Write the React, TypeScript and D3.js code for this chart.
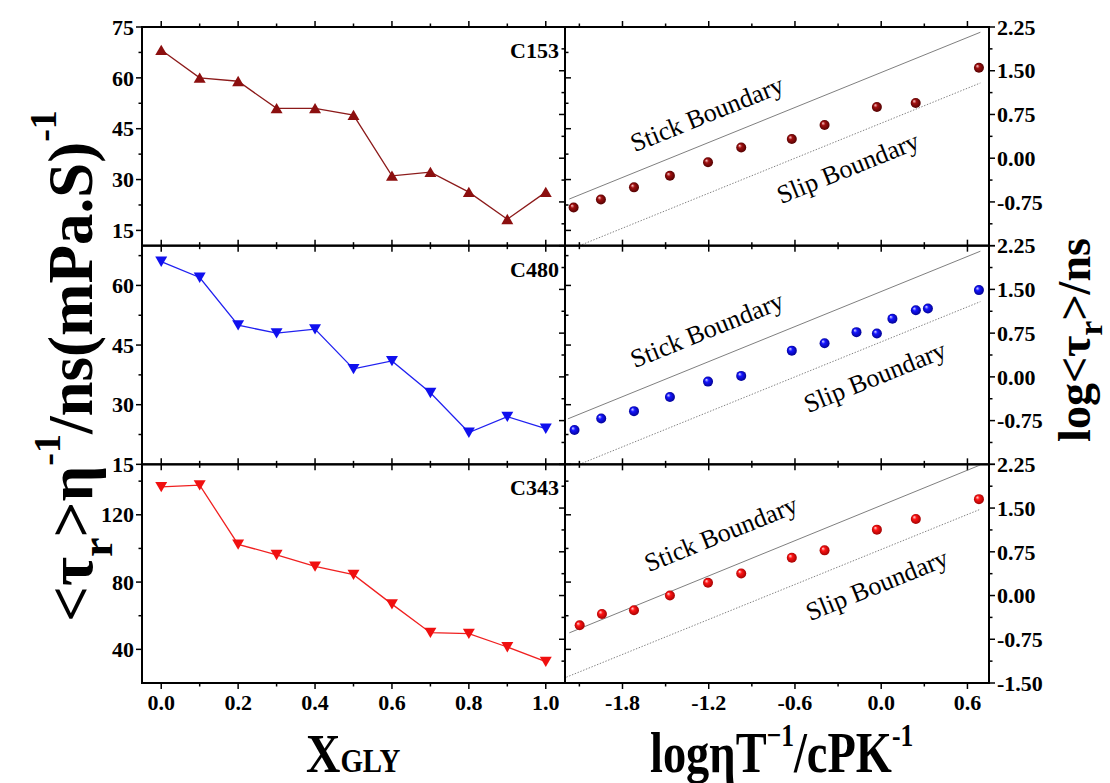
import React from 'react';
import * as d3 from 'd3';

// ---------- data ----------
const xGly = [0, 0.1, 0.2, 0.3, 0.4, 0.5, 0.6, 0.7, 0.8, 0.9, 1.0];
const c153Tau = [68.2, 60, 59, 51, 51, 49, 31.1, 32.2, 26.3, 18.3, 26.3];
const c480Tau = [66, 62, 50, 48, 49, 39, 41, 33, 23, 27, 24];
const c343Tau = [136.6, 137.6, 102.4, 96.2, 89.3, 84.4, 66.9, 49.9, 49.3, 41.4, 32.7];

const c153LogX = [-2.14, -1.95, -1.72, -1.47, -1.205, -0.974, -0.622, -0.394, -0.03, 0.24, 0.68];
const c153LogTau = [-0.845, -0.707, -0.5, -0.3, -0.07, 0.184, 0.328, 0.569, 0.879, 0.948, 1.55];
const c480LogX = [-2.134, -1.948, -1.72, -1.47, -1.205, -0.974, -0.622, -0.394, -0.172, -0.03, 0.078, 0.241, 0.325, 0.68];
const c480LogTau = [-0.912, -0.715, -0.588, -0.346, -0.081, 0.017, 0.45, 0.577, 0.767, 0.744, 0.998, 1.142, 1.171, 1.488];
const c343LogX = [-2.098, -1.943, -1.72, -1.47, -1.205, -0.974, -0.622, -0.394, -0.03, 0.241, 0.68];
const c343LogTau = [-0.511, -0.316, -0.252, 0, 0.218, 0.379, 0.648, 0.775, 1.13, 1.314, 1.653];

// boundary lines (endpoints in data units)
const c153Stick = [[-2.17, -0.70], [0.69, 2.16]];
const c153Slip = [[-2.1, -1.5], [0.69, 1.29]];
const c480Stick = [[-2.18, -0.72], [0.69, 2.155]];
const c480Slip = [[-2.1, -1.5], [0.69, 1.29]];
const c343Stick = [[-2.17, -0.64], [0.69, 2.24]];
const c343Slip = [[-2.19, -1.40], [0.69, 1.48]];

// ticks
const leftXMajor = [0, 0.2, 0.4, 0.6, 0.8, 1.0];
const leftXMinor = [0.1, 0.3, 0.5, 0.7, 0.9];
const rightXMajor = [-1.8, -1.2, -0.6, 0, 0.6];
const rightXMinor = [-2.1, -1.5, -0.9, -0.3, 0.3];
const rightYMajor = [-1.5, -0.75, 0, 0.75, 1.5, 2.25];
const rightYMinor = [-1.125, -0.375, 0.375, 1.125, 1.875];
const c153YMajor = [15, 30, 45, 60, 75];
const c153YMinor = [22.5, 37.5, 52.5, 67.5];
const c480YMajor = [15, 30, 45, 60];
const c480YMinor = [22.5, 37.5, 52.5, 67.5];
const c343YMajor = [40, 80, 120];
const c343YMinor = [20, 60, 100, 140];

// ---------- layout ----------
const W = 1110, H = 783;
const L = 142, M = 565, R = 989, T = 27, B = 683;
const PH = (B - T) / 3;
const FONT = '"Liberation Serif", "Times New Roman", serif';

const panels = [
  { name: 'C153', tau: c153Tau, yDom: [10.5, 75], yMajor: c153YMajor, yMinor: c153YMinor,
    color: '#8c0f0f', line: '#8c1a1a', up: true, lx: c153LogX, ly: c153LogTau,
    stick: c153Stick, slip: c153Slip, rLabels: [-0.75, 0, 0.75, 1.5, 2.25],
    stickPos: [707, 114], slipPos: [848, 168], grad: 'gDark' },
  { name: 'C480', tau: c480Tau, yDom: [15, 70], yMajor: c480YMajor, yMinor: c480YMinor,
    color: '#1010ee', line: '#2020f0', up: false, lx: c480LogX, ly: c480LogTau,
    stick: c480Stick, slip: c480Slip, rLabels: [-0.75, 0, 0.75, 1.5, 2.25],
    stickPos: [707, 330], slipPos: [875, 377], grad: 'gBlue' },
  { name: 'C343', tau: c343Tau, yDom: [20, 150], yMajor: c343YMajor, yMinor: c343YMinor,
    color: '#f01010', line: '#f02020', up: false, lx: c343LogX, ly: c343LogTau,
    stick: c343Stick, slip: c343Slip, rLabels: [-1.5, -0.75, 0, 0.75, 1.5, 2.25],
    stickPos: [721, 534], slipPos: [877, 585], grad: 'gRed' },
];

const xL = d3.scaleLinear().domain([-0.05, 1.05]).range([L, M]);
const xR = d3.scaleLinear().domain([-2.2, 0.75]).range([M, R]);

const fmt2 = (v: number) => v.toFixed(2);
const fmtL = (v: number) => v.toFixed(1);

export default function App() {
  const angle = -22;
  const tri = d3.symbol().type(d3.symbolTriangle).size(62)();
  return (
    <svg width={W} height={H} style={{ position: 'absolute', left: 0, top: 0, background: '#fff' }}
      fontFamily={FONT}>
      <defs>
        <radialGradient id="gDark" cx="50%" cy="50%" r="55%" fx="32%" fy="30%">
          <stop offset="0%" stopColor="#ffd0d0" />
          <stop offset="35%" stopColor="#a01010" />
          <stop offset="100%" stopColor="#4a0000" />
        </radialGradient>
        <radialGradient id="gBlue" cx="50%" cy="50%" r="55%" fx="32%" fy="30%">
          <stop offset="0%" stopColor="#e0e0ff" />
          <stop offset="35%" stopColor="#1515ff" />
          <stop offset="100%" stopColor="#00008a" />
        </radialGradient>
        <radialGradient id="gRed" cx="50%" cy="50%" r="55%" fx="32%" fy="30%">
          <stop offset="0%" stopColor="#ffe0e0" />
          <stop offset="35%" stopColor="#ff1515" />
          <stop offset="100%" stopColor="#9a0000" />
        </radialGradient>
        {panels.map((p, i) => (
          <clipPath id={`clipR${i}`} key={i}>
            <rect x={M} y={T + i * PH} width={R - M} height={PH} />
          </clipPath>
        ))}
      </defs>
      <rect x={0} y={0} width={W} height={H} fill="#fff" />
      {panels.map((p, i) => {
        const top = T + i * PH;
        const bot = top + PH;
        const yL = d3.scaleLinear().domain(p.yDom).range([bot, top]);
        const yR = d3.scaleLinear().domain([-1.5, 2.25]).range([bot, top]);
        const lineGen = d3.line<number>().x((_, k) => xL(xGly[k])).y((d) => yL(d));
        const bl = d3.line<number[]>().x((d) => xR(d[0])).y((d) => yR(d[1]));
        const maj = 6, mnr = 3.5;
        return (
          <g key={p.name}>
            <g stroke="#000" strokeWidth={1.5}>
              {p.yMajor.map((v) => (
                <g key={'ly' + v}>
                  <line x1={L - maj} x2={L} y1={yL(v)} y2={yL(v)} />
                  <line x1={M} x2={M + maj} y1={yL(v)} y2={yL(v)} />
                </g>
              ))}
              {p.yMinor.filter((v) => v > p.yDom[0] && v < p.yDom[1]).map((v) => (
                <g key={'lym' + v}>
                  <line x1={L - mnr} x2={L} y1={yL(v)} y2={yL(v)} />
                  <line x1={M} x2={M + mnr} y1={yL(v)} y2={yL(v)} />
                </g>
              ))}
              {leftXMajor.map((v) => (
                <g key={'lx' + v}>
                  <line x1={xL(v)} x2={xL(v)} y1={bot} y2={bot + maj} />
                  <line x1={xL(v)} x2={xL(v)} y1={top} y2={top - maj} />
                </g>
              ))}
              {leftXMinor.map((v) => (
                <g key={'lxm' + v}>
                  <line x1={xL(v)} x2={xL(v)} y1={bot} y2={bot + mnr} />
                  <line x1={xL(v)} x2={xL(v)} y1={top} y2={top - mnr} />
                </g>
              ))}
              {rightYMajor.map((v) => (
                <g key={'ry' + v}>
                  <line x1={R} x2={R + maj} y1={yR(v)} y2={yR(v)} />
                  <line x1={M - maj} x2={M} y1={yR(v)} y2={yR(v)} />
                </g>
              ))}
              {rightYMinor.map((v) => (
                <g key={'rym' + v}>
                  <line x1={R} x2={R + mnr} y1={yR(v)} y2={yR(v)} />
                  <line x1={M - mnr} x2={M} y1={yR(v)} y2={yR(v)} />
                </g>
              ))}
              {rightXMajor.map((v) => (
                <g key={'rx' + v}>
                  <line x1={xR(v)} x2={xR(v)} y1={bot} y2={bot + maj} />
                  <line x1={xR(v)} x2={xR(v)} y1={top} y2={top - maj} />
                </g>
              ))}
              {rightXMinor.map((v) => (
                <g key={'rxm' + v}>
                  <line x1={xR(v)} x2={xR(v)} y1={bot} y2={bot + mnr} />
                  <line x1={xR(v)} x2={xR(v)} y1={top} y2={top - mnr} />
                </g>
              ))}
            </g>
            <g fontSize={22} fontWeight="bold" textAnchor="end">
              {p.yMajor.map((v) => (
                <text key={'lt' + v} x={L - 8} y={yL(v)} dy="0.35em">{v}</text>
              ))}
            </g>
            <g fontSize={22} fontWeight="bold" textAnchor="start">
              {p.rLabels.map((v) => (
                <text key={'rt' + v} x={R + 8} y={yR(v)} dy="0.35em">{fmt2(v)}</text>
              ))}
            </g>
            <path d={lineGen(p.tau) || ''} fill="none" stroke={p.line} strokeWidth={1.3} />
            {p.tau.map((v, k) => (
              <path key={k} d={tri}
                transform={`translate(${xL(xGly[k])},${yL(v) + (p.up ? 1.5 : -1.5)}) rotate(${p.up ? 0 : 180})`}
                fill={p.color} />
            ))}
            <text x={M - 6} y={top + 31} fontSize={22} fontWeight="bold" textAnchor="end">{p.name}</text>
            <g clipPath={`url(#clipR${i})`}>
              <path d={bl(p.stick) || ''} fill="none" stroke="#707070" strokeWidth={0.9} />
              <path d={bl(p.slip) || ''} fill="none" stroke="#808080" strokeWidth={1} strokeDasharray="1.4,1.6" />
            </g>
            {p.lx.map((v, k) => (
              <circle key={k} cx={xR(v)} cy={yR(p.ly[k])} r={5} fill={`url(#${p.grad})`} />
            ))}
            <text transform={`translate(${p.stickPos[0]},${p.stickPos[1]}) rotate(${angle})`}
              fontSize={26} textAnchor="middle" dominantBaseline="central">Stick Boundary</text>
            <text transform={`translate(${p.slipPos[0]},${p.slipPos[1]}) rotate(${angle})`}
              fontSize={26} textAnchor="middle" dominantBaseline="central">Slip Boundary</text>
            <rect x={L} y={top} width={M - L} height={PH} fill="none" stroke="#000" strokeWidth={2} />
            <rect x={M} y={top} width={R - M} height={PH} fill="none" stroke="#000" strokeWidth={2} />
          </g>
        );
      })}
      <g fontSize={22} fontWeight="bold" textAnchor="middle">
        {leftXMajor.map((v) => (
          <text key={'bl' + v} x={xL(v)} y={B + 27}>{fmtL(v)}</text>
        ))}
        {rightXMajor.map((v) => (
          <text key={'br' + v} x={xR(v)} y={B + 27}>{fmtL(v)}</text>
        ))}
      </g>
      {/* axis titles */}
      <text transform="translate(306,772) scale(0.85,1)" fontSize={56} fontWeight="bold">
        X<tspan fontSize={34}>GLY</tspan>
      </text>
      <text transform="translate(650,772) scale(0.8,1)" fontSize={58} fontWeight="bold">
        logηT<tspan fontSize={32} dy={-26}>−1</tspan><tspan dy={26}>/cPK</tspan><tspan fontSize={32} dy={-26}>-1</tspan>
      </text>
      <text transform="translate(92,366) rotate(-90)" fontSize={63} fontWeight="bold" textAnchor="middle">
        &lt;τ<tspan fontSize={44} dy={20}>r</tspan><tspan dy={-20}>&gt;η</tspan><tspan fontSize={38} dy={-32}>-1</tspan><tspan dy={32}>/ns(mPa.S)</tspan><tspan fontSize={38} dy={-36}>-1</tspan>
      </text>
      <text transform="translate(1090,340) rotate(-90)" fontSize={46} fontWeight="bold" textAnchor="middle">
        log&lt;τ<tspan fontSize={34} dy={12}>r</tspan><tspan dy={-12}>&gt;/ns</tspan>
      </text>
    </svg>
  );
}
